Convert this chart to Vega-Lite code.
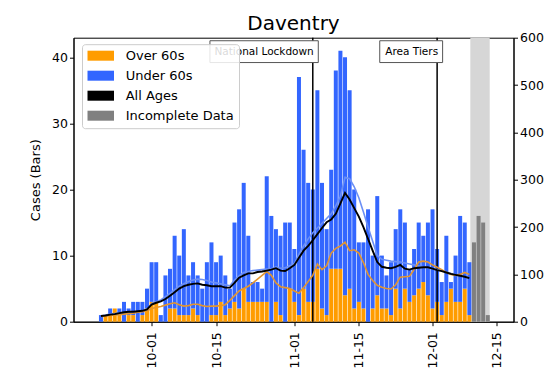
{
  "$schema": "https://vega.github.io/schema/vega-lite/v6.json",
  "width": 440,
  "height": 284,
  "autosize": {"type": "none"},
  "padding": {"left": 73.5, "top": 37.7, "right": 39.5, "bottom": 67.3},
  "background": "white",
  "title": {"text": "Daventry", "fontSize": 20, "font": "DejaVu Sans", "fontWeight": "normal", "color": "black", "offset": -2},
  "config": {
    "font": "DejaVu Sans",
    "view": {"stroke": "black", "strokeWidth": 1},
    "axis": {"labelFont": "DejaVu Sans", "labelFontSize": 12.5, "labelColor": "black", "tickColor": "black", "domainColor": "black", "grid": false, "titleFont": "DejaVu Sans", "titleFontWeight": "normal", "titleColor": "black", "titleFontSize": 13, "tickSize": 4}
  },
  "datasets": {
    "daily": [
      {"date": "2020-09-20", "Over 60s": 0, "Under 60s": 1, "over_rate": 11, "under_rate": 12, "all_rate": 12},
      {"date": "2020-09-21", "Over 60s": 1, "Under 60s": 0, "over_rate": 12, "under_rate": 14, "all_rate": 13},
      {"date": "2020-09-22", "Over 60s": 1, "Under 60s": 1, "over_rate": 13, "under_rate": 16, "all_rate": 15},
      {"date": "2020-09-23", "Over 60s": 2, "Under 60s": 0, "over_rate": 14, "under_rate": 17, "all_rate": 16},
      {"date": "2020-09-24", "Over 60s": 1, "Under 60s": 1, "over_rate": 15, "under_rate": 19, "all_rate": 18},
      {"date": "2020-09-25", "Over 60s": 0, "Under 60s": 3, "over_rate": 16, "under_rate": 19, "all_rate": 20},
      {"date": "2020-09-26", "Over 60s": 1, "Under 60s": 1, "over_rate": 17, "under_rate": 20, "all_rate": 21},
      {"date": "2020-09-27", "Over 60s": 1, "Under 60s": 2, "over_rate": 18, "under_rate": 20, "all_rate": 21},
      {"date": "2020-09-28", "Over 60s": 0, "Under 60s": 3, "over_rate": 20, "under_rate": 21, "all_rate": 22},
      {"date": "2020-09-29", "Over 60s": 1, "Under 60s": 2, "over_rate": 21, "under_rate": 22, "all_rate": 23},
      {"date": "2020-09-30", "Over 60s": 2, "Under 60s": 3, "over_rate": 23, "under_rate": 25, "all_rate": 26},
      {"date": "2020-10-01", "Over 60s": 3, "Under 60s": 6, "over_rate": 28, "under_rate": 38, "all_rate": 36},
      {"date": "2020-10-02", "Over 60s": 3, "Under 60s": 6, "over_rate": 30, "under_rate": 42, "all_rate": 40},
      {"date": "2020-10-03", "Over 60s": 0, "Under 60s": 1, "over_rate": 32, "under_rate": 46, "all_rate": 43},
      {"date": "2020-10-04", "Over 60s": 0, "Under 60s": 7, "over_rate": 35, "under_rate": 53, "all_rate": 48},
      {"date": "2020-10-05", "Over 60s": 2, "Under 60s": 6, "over_rate": 38, "under_rate": 60, "all_rate": 55},
      {"date": "2020-10-06", "Over 60s": 2, "Under 60s": 11, "over_rate": 40, "under_rate": 68, "all_rate": 62},
      {"date": "2020-10-07", "Over 60s": 1, "Under 60s": 9, "over_rate": 36, "under_rate": 75, "all_rate": 70},
      {"date": "2020-10-08", "Over 60s": 1, "Under 60s": 13, "over_rate": 33, "under_rate": 80, "all_rate": 75},
      {"date": "2020-10-09", "Over 60s": 1, "Under 60s": 6, "over_rate": 34, "under_rate": 85, "all_rate": 78},
      {"date": "2020-10-10", "Over 60s": 2, "Under 60s": 7, "over_rate": 37, "under_rate": 88, "all_rate": 80},
      {"date": "2020-10-11", "Over 60s": 1, "Under 60s": 6, "over_rate": 37, "under_rate": 90, "all_rate": 81},
      {"date": "2020-10-12", "Over 60s": 0, "Under 60s": 5, "over_rate": 34, "under_rate": 89, "all_rate": 78},
      {"date": "2020-10-13", "Over 60s": 0, "Under 60s": 9, "over_rate": 32, "under_rate": 87, "all_rate": 77},
      {"date": "2020-10-14", "Over 60s": 1, "Under 60s": 11, "over_rate": 33, "under_rate": 84, "all_rate": 75},
      {"date": "2020-10-15", "Over 60s": 1, "Under 60s": 8, "over_rate": 33, "under_rate": 82, "all_rate": 75},
      {"date": "2020-10-16", "Over 60s": 3, "Under 60s": 7, "over_rate": 34, "under_rate": 80, "all_rate": 75},
      {"date": "2020-10-17", "Over 60s": 1, "Under 60s": 6, "over_rate": 36, "under_rate": 78, "all_rate": 72},
      {"date": "2020-10-18", "Over 60s": 2, "Under 60s": 3, "over_rate": 45, "under_rate": 76, "all_rate": 72},
      {"date": "2020-10-19", "Over 60s": 3, "Under 60s": 12, "over_rate": 55, "under_rate": 88, "all_rate": 82},
      {"date": "2020-10-20", "Over 60s": 2, "Under 60s": 15, "over_rate": 65, "under_rate": 97, "all_rate": 93},
      {"date": "2020-10-21", "Over 60s": 5, "Under 60s": 16, "over_rate": 70, "under_rate": 104, "all_rate": 98},
      {"date": "2020-10-22", "Over 60s": 3, "Under 60s": 10, "over_rate": 75, "under_rate": 106, "all_rate": 102},
      {"date": "2020-10-23", "Over 60s": 3, "Under 60s": 3, "over_rate": 82, "under_rate": 108, "all_rate": 102},
      {"date": "2020-10-24", "Over 60s": 3, "Under 60s": 3, "over_rate": 90, "under_rate": 109, "all_rate": 105},
      {"date": "2020-10-25", "Over 60s": 3, "Under 60s": 2, "over_rate": 98, "under_rate": 110, "all_rate": 106},
      {"date": "2020-10-26", "Over 60s": 3, "Under 60s": 19, "over_rate": 106, "under_rate": 111, "all_rate": 108},
      {"date": "2020-10-27", "Over 60s": 0, "Under 60s": 16, "over_rate": 98, "under_rate": 112, "all_rate": 110},
      {"date": "2020-10-28", "Over 60s": 3, "Under 60s": 11, "over_rate": 82, "under_rate": 116, "all_rate": 113},
      {"date": "2020-10-29", "Over 60s": 1, "Under 60s": 12, "over_rate": 74, "under_rate": 113, "all_rate": 108},
      {"date": "2020-10-30", "Over 60s": 0, "Under 60s": 15, "over_rate": 72, "under_rate": 114, "all_rate": 107},
      {"date": "2020-10-31", "Over 60s": 5, "Under 60s": 10, "over_rate": 70, "under_rate": 118, "all_rate": 113},
      {"date": "2020-11-01", "Over 60s": 3, "Under 60s": 8, "over_rate": 65, "under_rate": 123, "all_rate": 120},
      {"date": "2020-11-02", "Over 60s": 1, "Under 60s": 36, "over_rate": 60, "under_rate": 142, "all_rate": 135},
      {"date": "2020-11-03", "Over 60s": 5, "Under 60s": 21, "over_rate": 72, "under_rate": 160, "all_rate": 150},
      {"date": "2020-11-04", "Over 60s": 3, "Under 60s": 18, "over_rate": 85, "under_rate": 175, "all_rate": 160},
      {"date": "2020-11-05", "Over 60s": 3, "Under 60s": 17, "over_rate": 98, "under_rate": 188, "all_rate": 172},
      {"date": "2020-11-06", "Over 60s": 8, "Under 60s": 27, "over_rate": 122, "under_rate": 198, "all_rate": 185},
      {"date": "2020-11-07", "Over 60s": 2, "Under 60s": 19, "over_rate": 110, "under_rate": 208, "all_rate": 198},
      {"date": "2020-11-08", "Over 60s": 1, "Under 60s": 13, "over_rate": 118, "under_rate": 218, "all_rate": 210},
      {"date": "2020-11-09", "Over 60s": 8, "Under 60s": 15, "over_rate": 145, "under_rate": 228, "all_rate": 216},
      {"date": "2020-11-10", "Over 60s": 8, "Under 60s": 30, "over_rate": 155, "under_rate": 245, "all_rate": 228},
      {"date": "2020-11-11", "Over 60s": 8, "Under 60s": 33, "over_rate": 160, "under_rate": 265, "all_rate": 250},
      {"date": "2020-11-12", "Over 60s": 4, "Under 60s": 36, "over_rate": 168, "under_rate": 305, "all_rate": 272},
      {"date": "2020-11-13", "Over 60s": 5, "Under 60s": 30, "over_rate": 150, "under_rate": 302, "all_rate": 258},
      {"date": "2020-11-14", "Over 60s": 2, "Under 60s": 18, "over_rate": 152, "under_rate": 285, "all_rate": 240},
      {"date": "2020-11-15", "Over 60s": 3, "Under 60s": 9, "over_rate": 145, "under_rate": 262, "all_rate": 222},
      {"date": "2020-11-16", "Over 60s": 2, "Under 60s": 10, "over_rate": 125, "under_rate": 232, "all_rate": 200},
      {"date": "2020-11-17", "Over 60s": 0, "Under 60s": 17, "over_rate": 100, "under_rate": 200, "all_rate": 175},
      {"date": "2020-11-18", "Over 60s": 2, "Under 60s": 8, "over_rate": 87, "under_rate": 170, "all_rate": 150},
      {"date": "2020-11-19", "Over 60s": 4, "Under 60s": 15, "over_rate": 77, "under_rate": 140, "all_rate": 126},
      {"date": "2020-11-20", "Over 60s": 2, "Under 60s": 8, "over_rate": 73, "under_rate": 132, "all_rate": 116},
      {"date": "2020-11-21", "Over 60s": 2, "Under 60s": 5, "over_rate": 70, "under_rate": 130, "all_rate": 114},
      {"date": "2020-11-22", "Over 60s": 1, "Under 60s": 8, "over_rate": 69, "under_rate": 128, "all_rate": 113},
      {"date": "2020-11-23", "Over 60s": 5, "Under 60s": 9, "over_rate": 78, "under_rate": 127, "all_rate": 116},
      {"date": "2020-11-24", "Over 60s": 2, "Under 60s": 15, "over_rate": 94, "under_rate": 126, "all_rate": 120},
      {"date": "2020-11-25", "Over 60s": 5, "Under 60s": 10, "over_rate": 95, "under_rate": 124, "all_rate": 112},
      {"date": "2020-11-26", "Over 60s": 3, "Under 60s": 5, "over_rate": 96, "under_rate": 122, "all_rate": 110},
      {"date": "2020-11-27", "Over 60s": 4, "Under 60s": 7, "over_rate": 110, "under_rate": 120, "all_rate": 113},
      {"date": "2020-11-28", "Over 60s": 5, "Under 60s": 10, "over_rate": 126, "under_rate": 118, "all_rate": 114},
      {"date": "2020-11-29", "Over 60s": 6, "Under 60s": 7, "over_rate": 128, "under_rate": 116, "all_rate": 115},
      {"date": "2020-11-30", "Over 60s": 4, "Under 60s": 11, "over_rate": 126, "under_rate": 114, "all_rate": 115},
      {"date": "2020-12-01", "Over 60s": 2, "Under 60s": 15, "over_rate": 120, "under_rate": 112, "all_rate": 112},
      {"date": "2020-12-02", "Over 60s": 3, "Under 60s": 8, "over_rate": 115, "under_rate": 110, "all_rate": 109},
      {"date": "2020-12-03", "Over 60s": 1, "Under 60s": 5, "over_rate": 110, "under_rate": 108, "all_rate": 107},
      {"date": "2020-12-04", "Over 60s": 3, "Under 60s": 10, "over_rate": 104, "under_rate": 105, "all_rate": 104},
      {"date": "2020-12-05", "Over 60s": 5, "Under 60s": 1, "over_rate": 100, "under_rate": 102, "all_rate": 101},
      {"date": "2020-12-06", "Over 60s": 3, "Under 60s": 7, "over_rate": 98, "under_rate": 99, "all_rate": 99},
      {"date": "2020-12-07", "Over 60s": 3, "Under 60s": 13, "over_rate": 100, "under_rate": 97, "all_rate": 97},
      {"date": "2020-12-08", "Over 60s": 5, "Under 60s": 10, "over_rate": 104, "under_rate": 95, "all_rate": 95},
      {"date": "2020-12-09", "Over 60s": 1, "Under 60s": 8, "over_rate": 100, "under_rate": 93, "all_rate": 92},
      {"date": "2020-12-10", "Incomplete Data": 12},
      {"date": "2020-12-11", "Incomplete Data": 16},
      {"date": "2020-12-12", "Incomplete Data": 15},
      {"date": "2020-12-13", "Incomplete Data": 1}
    ],
    "events": [
      {"event": "National Lockdown", "date": "2020-11-05", "label_from": "2020-10-13T16:00:00Z"},
      {"event": "Area Tiers", "date": "2020-12-02", "label_from": "2020-11-19T13:00:00Z"}
    ],
    "incomplete_span": [
      {"start": "2020-12-09T05:00:00Z", "end": "2020-12-13T10:00:00Z"}
    ]
  },
  "layer": [
    {
      "layer": [
        {
          "data": {"name": "incomplete_span"},
          "mark": {"type": "rect", "color": "#d6d6d6"},
          "encoding": {
            "x": {"field": "start", "type": "temporal", "title": null},
            "x2": {"field": "end"}
          }
        },
        {
          "data": {"name": "daily"},
          "transform": [
            {"fold": ["Over 60s", "Under 60s", "Incomplete Data"], "as": ["group", "cases"]},
            {"filter": "isValid(datum.cases)"}
          ],
          "mark": {"type": "bar", "size": 4},
          "encoding": {
            "x": {
              "field": "date", "type": "temporal", "title": null,
              "scale": {"type": "utc", "domain": [1600138800000, 1608206400000]},
              "axis": {"values": [1601510400000, 1602720000000, 1604188800000, 1605398400000, 1606780800000, 1607990400000], "labelExpr": "utcFormat(datum.value, '%m-%d')", "labelAngle": 270, "labelPadding": 6}
            },
            "y": {
              "field": "cases", "type": "quantitative", "stack": "zero",
              "scale": {"domain": [0, 42.96], "nice": false},
              "axis": {"values": [0, 5, 10, 15, 20, 25, 30, 35, 40], "title": "Cases (Bars)", "titlePadding": 9}
            },
            "color": {
              "field": "group", "type": "nominal",
              "scale": {"domain": ["Over 60s", "Under 60s", "All Ages", "Incomplete Data"], "range": ["#ff9c00", "#3366ff", "#000000", "#808080"]},
              "legend": {
                "title": null, "orient": "none", "legendX": 8.5, "legendY": 6.5, "zindex": 2,
                "symbolType": "M-1.2,-1H4.1V1H-1.2Z", "symbolSize": 100, "symbolStrokeWidth": 0, "symbolOpacity": 1,
                "labelFontSize": 13, "labelFont": "DejaVu Sans", "labelColor": "black", "labelOffset": 25.7,
                "rowPadding": 6, "padding": 5,
                "fillColor": "rgba(255,255,255,0.85)", "strokeColor": "#cccccc", "cornerRadius": 3
              }
            },
            "order": {"field": "group", "sort": "ascending"}
          }
        },
        {
          "data": {"name": "events"},
          "mark": {"type": "rule", "color": "black", "strokeWidth": 1.5},
          "encoding": {"x": {"field": "date", "type": "temporal", "title": null}}
        },
        {
          "data": {"name": "events"},
          "mark": {"type": "rect", "fill": "white", "stroke": "#555555", "strokeWidth": 1, "x2Offset": 5.5},
          "encoding": {
            "x": {"field": "label_from", "type": "temporal", "title": null},
            "x2": {"field": "date"},
            "y": {"datum": 42.5},
            "y2": {"datum": 39.2}
          }
        },
        {
          "data": {"name": "events"},
          "mark": {"type": "text", "align": "right", "baseline": "middle", "dx": 1, "fontSize": 10.5, "font": "DejaVu Sans", "color": "black"},
          "encoding": {
            "x": {"field": "date", "type": "temporal", "title": null},
            "y": {"datum": 40.85},
            "text": {"field": "event"}
          }
        }
      ]
    },
    {
      "data": {"name": "daily"},
      "transform": [{"filter": "isValid(datum.all_rate)"}],
      "layer": [
        {
          "mark": {"type": "line", "color": "#6b8ff5", "strokeWidth": 1.6},
          "encoding": {
            "x": {"field": "date", "type": "temporal", "title": null},
            "y": {
              "field": "under_rate", "type": "quantitative", "title": null,
              "scale": {"domain": [0, 600], "nice": false},
              "axis": {"orient": "right", "values": [0, 100, 200, 300, 400, 500, 600], "title": null}
            }
          }
        },
        {
          "mark": {"type": "line", "color": "#e39530", "strokeWidth": 1.6},
          "encoding": {
            "x": {"field": "date", "type": "temporal", "title": null},
            "y": {"field": "over_rate", "type": "quantitative", "title": null}
          }
        },
        {
          "mark": {"type": "line", "color": "black", "strokeWidth": 1.9},
          "encoding": {
            "x": {"field": "date", "type": "temporal", "title": null},
            "y": {"field": "all_rate", "type": "quantitative", "title": null}
          }
        }
      ]
    }
  ],
  "resolve": {"scale": {"y": "independent"}}
}
